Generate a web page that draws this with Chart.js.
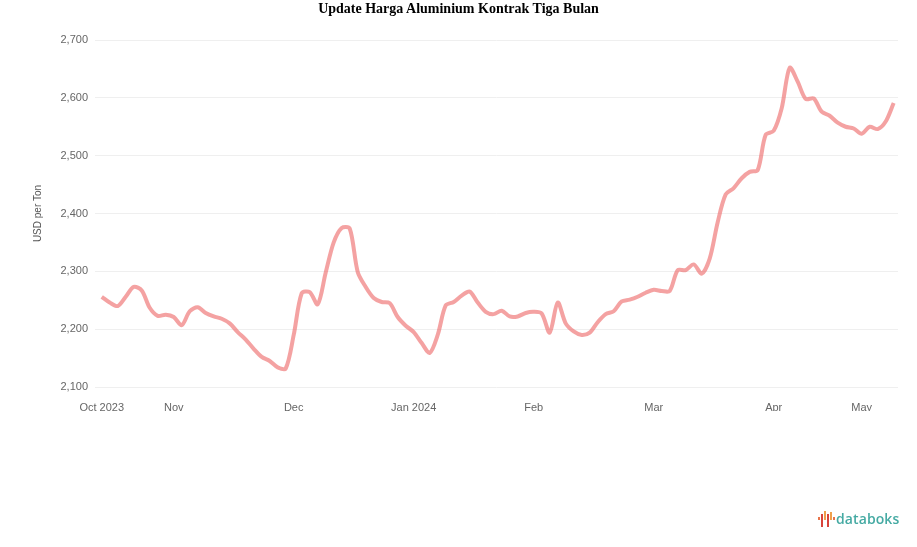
<!DOCTYPE html>
<html>
<head>
<meta charset="utf-8">
<script src="https://cdn.jsdelivr.net/npm/chart.js@4/dist/chart.umd.min.js"></script>
<style>
  html, body { margin: 0; padding: 0; background: #fff; }
  #wrap { position: relative; width: 917px; height: 547px; }
  #judul {
    position: absolute; top: 0; left: 0; width: 917px; text-align: center;
    font: bold 14px "Liberation Serif", "Times New Roman", serif; color: #000; line-height: 17px;
  }
  #logo {
    position: absolute; left: 818px; top: 509px; height: 20px;
    font: 600 14px "Open Sans", "Liberation Sans", sans-serif; color: #45aaa3; letter-spacing: 0.1px;
  }
  #logo svg { vertical-align: -3px; margin-right: 1px; }
</style>
</head>
<body>
<div id="wrap">
  <canvas id="grafik" width="917" height="547"></canvas>
  <div id="judul">Update Harga Aluminium Kontrak Tiga Bulan</div>
  <div id="logo"><svg width="17" height="16" viewBox="0 0 17 16">
    <rect x="0" y="6" width="2" height="3" fill="#e8744a"/>
    <rect x="3" y="3" width="2" height="13" fill="#d9443b"/>
    <rect x="6" y="0" width="2" height="9" fill="#f0a04b"/>
    <rect x="9" y="3" width="2" height="13" fill="#d9443b"/>
    <rect x="12" y="1" width="2" height="8" fill="#f0a04b"/>
    <rect x="15" y="6" width="2" height="3" fill="#e8744a"/>
  </svg>databoks</div>
</div>
<script>
// harga aluminium 3 bulan (USD per ton)
const harga = [
  2256, 2246, 2240, 2256, 2273, 2267, 2237, 2223, 2225, 2221,
  2207, 2231, 2238, 2228, 2222, 2218, 2210, 2195, 2182, 2166,
  2152, 2145, 2134, 2132, 2190, 2262, 2264, 2243, 2298, 2350,
  2375, 2374, 2299, 2273, 2254, 2247, 2245, 2221, 2206, 2195,
  2176, 2159, 2190, 2241, 2247, 2258, 2265, 2246, 2230, 2226,
  2232, 2222, 2222, 2228, 2230, 2227, 2194, 2246, 2210, 2196,
  2190, 2194, 2212, 2226, 2231, 2248, 2251, 2256, 2263, 2268,
  2266, 2266, 2302, 2302, 2312, 2296, 2322, 2385, 2433, 2444,
  2461, 2472, 2475, 2536, 2543, 2582, 2652, 2628, 2598, 2599,
  2576, 2569, 2557, 2550, 2547, 2538, 2550, 2546, 2559, 2591
];

// posisi label bulan (indeks data) dan teksnya
const bulanIdx = [0, 9, 24, 39, 54, 69, 84, 95];
const bulanTeks = ["Oct 2023", "Nov", "Dec", "Jan 2024", "Feb", "Mar", "Apr", "May"];

const yTicks = [2100, 2200, 2300, 2400, 2500, 2600, 2700];

const ctx = document.getElementById("grafik").getContext("2d");

new Chart(ctx, {
  type: "line",
  data: {
    datasets: [{
      data: harga.map((v, i) => ({ x: i, y: v })),
      borderColor: "rgba(236, 100, 100, 0.6)",
      borderWidth: 4,
      pointRadius: 0,
      tension: 0.3,
      fill: false
    }]
  },
  options: {
    responsive: false,
    animation: false,
    layout: { padding: { top: 40, left: 28, right: 19, bottom: 136 } },
    plugins: {
      legend: { display: false },
      tooltip: { enabled: false }
    },
    scales: {
      x: {
        type: "linear",
        min: -0.84,
        max: 99.54,
        grid: { display: false },
        border: { display: false },
        afterBuildTicks: (scale) => {
          scale.ticks = bulanIdx.map(v => ({ value: v }));
        },
        afterFit: (scale) => { scale.height = 24; },
        ticks: {
          autoSkip: false,
          maxRotation: 0,
          padding: 6,
          color: "#666",
          font: { family: "Liberation Sans, Arial, sans-serif", size: 11 },
          callback: (value) => {
            const k = bulanIdx.indexOf(value);
            return k >= 0 ? bulanTeks[k] : "";
          }
        }
      },
      y: {
        min: 2100,
        max: 2700,
        afterBuildTicks: (scale) => {
          scale.ticks = yTicks.map(v => ({ value: v }));
        },
        afterFit: (scale) => { scale.width = 67; },
        grid: { color: "#efefef", drawTicks: false },
        border: { display: false },
        title: {
          display: true,
          text: "USD per Ton",
          color: "#555",
          font: { family: "Liberation Sans, Arial, sans-serif", size: 10 }
        },
        ticks: {
          padding: 7,
          color: "#666",
          font: { family: "Liberation Sans, Arial, sans-serif", size: 11 },
          callback: (v) => v.toLocaleString("en-US")
        }
      }
    }
  }
});
</script>
</body>
</html>
